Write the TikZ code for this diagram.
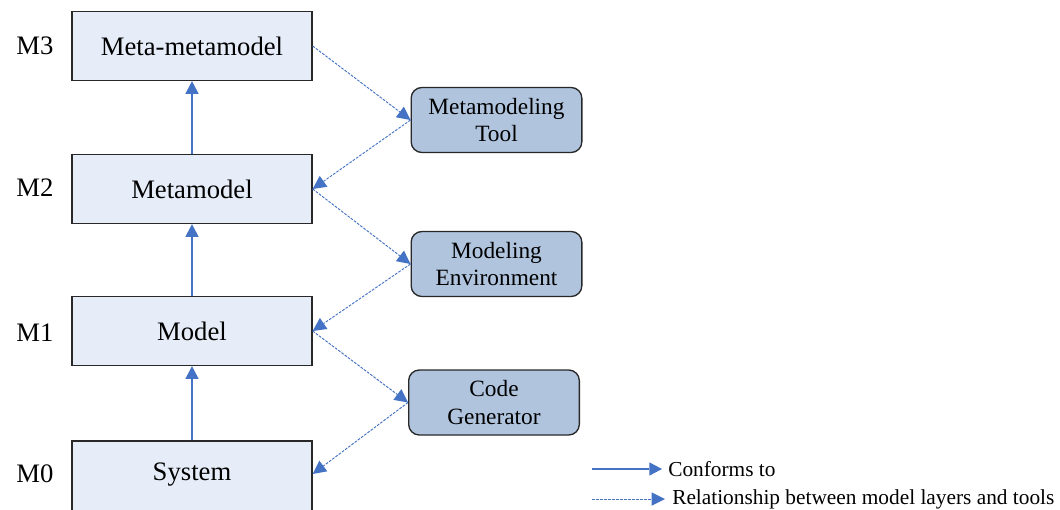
\documentclass[tikz,border=0pt]{standalone}
\usepackage{fontspec}
\setmainfont{Liberation Serif}
\usetikzlibrary{arrows.meta}
\definecolor{layerfill}{RGB}{230,237,248}
\definecolor{toolfill}{RGB}{176,196,222}
\definecolor{arrowblue}{RGB}{68,114,196}
\definecolor{framegray}{RGB}{40,40,40}
\tikzset{
  layer/.style={draw=framegray, line width=1pt, fill=layerfill,
    minimum width=180pt, minimum height=51.75pt, inner sep=0pt,
    font=\fontsize{20}{24}\selectfont},
  tool/.style={draw=framegray, line width=1pt, fill=toolfill, rounded corners=8pt,
    minimum width=128pt, minimum height=48.75pt, inner sep=0pt, align=center,
    font=\fontsize{17.5}{20.5}\selectfont},
  level/.style={font=\fontsize{20}{24}\selectfont, inner sep=0pt},
  legendtext/.style={font=\fontsize{16}{19}\selectfont, anchor=west, inner sep=0pt},
  conf/.style={draw=arrowblue, line width=0.8pt,
    -{Triangle[length=9.5pt,width=10pt,line width=0pt,fill=arrowblue]}},
  rel/.style={draw=arrowblue, line width=0.7pt, dash pattern=on 2pt off 1pt,
    -{Triangle[length=10pt,width=10pt,line width=0pt,fill=arrowblue]}}
}
\begin{document}
\begin{tikzpicture}[x=0.75pt,y=-0.75pt]
\useasboundingbox (0,0) rectangle (1060,510);
\clip (0,0) rectangle (1060,510);

% model layers (the lowest box runs past the lower edge)
\node[layer] (mm)    at (192,46)  {Meta-metamodel};
\node[layer] (meta)  at (192,189) {Metamodel};
\node[layer] (model) at (192,331) {Model};
\node[layer, minimum height=60pt, text height=13.5pt, text depth=15pt]
  (sys) at (192,481) {System};

% layer names
\node[level] (l3) at (35,46)  {M3};
\node[level] (l2) at (35,188) {M2};
\node[level] (l1) at (35,333) {M1};
\node[level] (l0) at (35,474) {M0};

% tools
\node[tool] (mt) at (496.5,120) {Metamodeling\\Tool};
\node[tool] (me) at (496.5,264) {Modeling\\Environment};
\node[tool] (cg) at (494,402.5) {Code\\Generator};

% conformance
\draw[conf] (sys.north) -- (model.south);
\draw[conf] (model.north) -- (meta.south);
\draw[conf] (meta.north) -- (mm.south);

% layers and tools
\coordinate (sysin) at ([yshift=5.25pt]sys.east);
\draw[rel] (mm.east) -- (mt.west);
\draw[rel] (mt.west) -- (meta.east);
\draw[rel] (meta.east) -- (me.west);
\draw[rel] (me.west) -- (model.east);
\draw[rel] (model.east) -- (cg.west);
\draw[rel] (cg.west) -- (sysin);

% legend
\coordinate (k1a) at (592,469);
\coordinate (k1b) at (662,469);
\coordinate (k2a) at (592,499);
\coordinate (k2b) at (665,499);
\draw[conf] (k1a) -- (k1b);
\draw[rel] (k2a) -- (k2b);
\node[legendtext] (t1) at (668,469) {Conforms to};
\node[legendtext] (t2) at (672,499) {Relationship between model layers and tools};
\end{tikzpicture}
\end{document}
